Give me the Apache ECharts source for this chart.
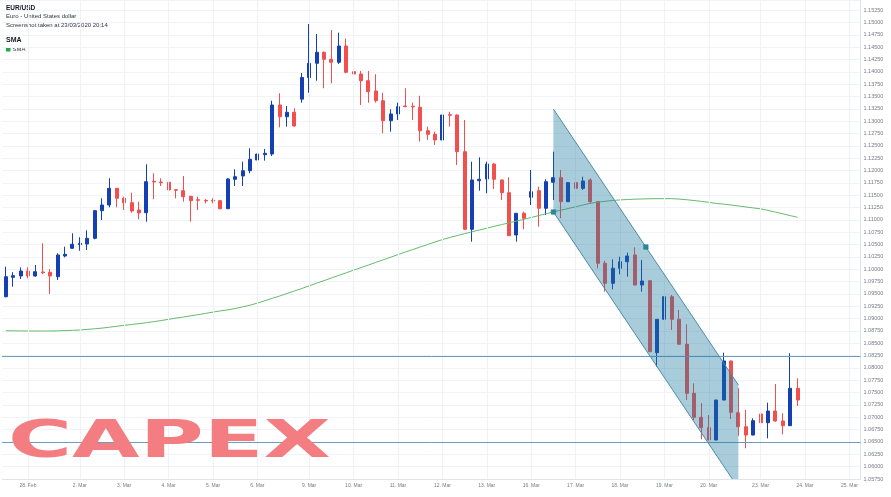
<!DOCTYPE html>
<html><head><meta charset="utf-8">
<script src="https://cdn.jsdelivr.net/npm/echarts@6/dist/echarts.min.js"></script>
<style>html,body{margin:0;padding:0;background:#fff}#c{width:891px;height:497px}</style>
</head><body><div id="c"></div>
<script>
// ---- data (EUR/USD 4h candles, 27 Feb – 23 Mar 2020) ----
const tickIndex = [3,10,16,22,28,34,41,47,53,59,65,71,77,83,89,95,102,108,114];
const tickLabels = ['28. Feb','2. Mar','3. Mar','4. Mar','5. Mar','6. Mar','9. Mar','10. Mar','11. Mar','12. Mar','13. Mar','16. Mar','17. Mar','18. Mar','19. Mar','20. Mar','23. Mar','24. Mar','25. Mar'];
const slotCount = 116;
const opens = [1.09443,1.09836,1.09863,1.09964,1.09863,1.09944,1.09938,1.09848,1.10268,1.10424,
1.10497,1.10511,1.10626,1.11186,1.11301,1.11639,1.11437,1.11348,1.11200,1.11145,
1.11781,1.11767,1.11761,1.11611,1.11591,1.11477,1.11408,1.11396,1.11396,1.11388,
1.11226,1.11822,1.11889,1.11996,1.12213,1.12320,1.12334,1.13327,1.13090,1.13179,
1.13445,1.13884,1.14172,1.14395,1.14253,1.14192,1.14522,1.14002,1.13955,1.13819,
1.13611,1.13414,1.13009,1.13145,1.13307,1.13301,1.13280,1.12806,1.12733,1.12618,
1.13131,1.13124,1.12381,1.10809,1.11793,1.11828,1.12132,1.11808,1.11550,1.10693,
1.11133,1.11457,1.11591,1.11234,1.11761,1.11854,1.11368,1.11753,1.11639,1.11808,
1.11368,1.10120,1.09715,1.10019,1.10152,1.10288,1.09680,1.09767,1.08309,1.08985,
1.09443,1.08985,1.08479,1.07486,1.07000,1.06789,1.06540,1.07350,1.08141,1.07093,
1.06809,1.06641,1.07067,1.06890,1.07127,1.06925,1.06830,1.07587];
const closes = [1.09848,1.09869,1.09964,1.09863,1.09950,1.09929,1.09863,1.10288,1.10302,1.10505,
1.10525,1.10626,1.11186,1.11301,1.11639,1.11437,1.11348,1.11179,1.11139,1.11773,
1.11767,1.11753,1.11605,1.11599,1.11469,1.11388,1.11396,1.11382,1.11382,1.11226,
1.11828,1.11874,1.11996,1.12227,1.12334,1.12348,1.13327,1.13090,1.13179,1.12902,
1.13884,1.14172,1.14395,1.14253,1.14192,1.14522,1.13990,1.13955,1.13819,1.13596,
1.13414,1.13009,1.13145,1.13293,1.13293,1.13287,1.12806,1.12733,1.12618,1.13124,
1.13118,1.12381,1.10809,1.11808,1.11822,1.12132,1.11822,1.11550,1.10679,1.11133,
1.11032,1.11571,1.11234,1.11773,1.11854,1.11368,1.11753,1.11639,1.11787,1.11368,
1.10120,1.09715,1.10019,1.10152,1.10268,1.09680,1.09761,1.08329,1.08985,1.09443,
1.08985,1.08479,1.07486,1.07000,1.06789,1.06540,1.07350,1.08141,1.07101,1.06809,
1.06641,1.06931,1.06890,1.07127,1.06925,1.06830,1.07587,1.07350];
const lows = [1.09431,1.09646,1.09802,1.09816,1.09848,1.09903,1.09498,1.09782,1.10241,1.10410,
1.10375,1.10389,1.10606,1.10997,1.11254,1.11254,1.11200,1.11145,1.11011,1.10963,
1.11417,1.11686,1.11591,1.11437,1.11368,1.10963,1.11200,1.11335,1.11335,1.11214,
1.11220,1.11686,1.11686,1.11943,1.12111,1.12199,1.12294,1.12875,1.12887,1.12887,
1.13374,1.13576,1.13819,1.13665,1.13767,1.14158,1.13969,1.13732,1.13327,1.13374,
1.13374,1.12754,1.12786,1.13023,1.13280,1.13023,1.12584,1.12618,1.12517,1.12604,
1.12887,1.12111,1.10795,1.10558,1.11591,1.11538,1.11625,1.11402,1.10673,1.10558,
1.10809,1.11301,1.10861,1.11098,1.11402,1.11032,1.11362,1.11605,1.11605,1.11335,
1.10019,1.09545,1.09593,1.09897,1.09848,1.09674,1.09545,1.08323,1.08025,1.08981,
1.08769,1.08475,1.07350,1.06945,1.06554,1.06534,1.06534,1.07344,1.06965,1.06627,
1.06372,1.06635,1.06372,1.06574,1.06911,1.06655,1.06824,1.07229];
const highs = [1.10051,1.09938,1.10039,1.10039,1.10085,1.10525,1.10004,1.10322,1.10456,1.10728,
1.10647,1.10788,1.11200,1.11437,1.11842,1.11645,1.11469,1.11550,1.11368,1.12126,
1.11943,1.11842,1.11773,1.11619,1.11889,1.11483,1.11469,1.11417,1.11437,1.11402,
1.11842,1.12024,1.12178,1.12450,1.12482,1.12436,1.13414,1.13564,1.13307,1.13260,
1.13975,1.14968,1.14765,1.14411,1.14846,1.14792,1.14670,1.14253,1.14016,1.14016,
1.13949,1.13576,1.13240,1.13374,1.13665,1.13374,1.13515,1.12887,1.12786,1.13327,
1.13191,1.13135,1.13023,1.12178,1.12267,1.12178,1.12146,1.11818,1.11862,1.11139,
1.11165,1.12010,1.11672,1.11822,1.12381,1.12010,1.11767,1.11842,1.11874,1.11842,
1.11376,1.10173,1.10201,1.10254,1.10335,1.10444,1.10187,1.09775,1.08991,1.09796,
1.09478,1.09174,1.08884,1.07689,1.07284,1.07046,1.07356,1.08309,1.08147,1.07587,
1.07148,1.06980,1.07093,1.07296,1.07675,1.07081,1.08297,1.07790];
const sma = [1.08754,1.08752,1.08750,1.08748,1.08748,1.08748,1.08748,1.08752,1.08756,1.08762,
1.08768,1.08781,1.08793,1.08807,1.08825,1.08844,1.08862,1.08880,1.08898,1.08916,
1.08937,1.08961,1.08985,1.09010,1.09032,1.09056,1.09081,1.09105,1.09131,1.09156,
1.09176,1.09204,1.09237,1.09271,1.09314,1.09360,1.09409,1.09457,1.09508,1.09559,
1.09609,1.09664,1.09717,1.09769,1.09822,1.09875,1.09927,1.09980,1.10033,1.10085,
1.10138,1.10191,1.10243,1.10296,1.10349,1.10399,1.10450,1.10501,1.10551,1.10600,
1.10643,1.10681,1.10720,1.10758,1.10795,1.10831,1.10868,1.10904,1.10938,1.10975,
1.11011,1.11048,1.11086,1.11123,1.11161,1.11196,1.11230,1.11265,1.11301,1.11335,
1.11358,1.11376,1.11392,1.11404,1.11412,1.11419,1.11423,1.11427,1.11429,1.11429,
1.11429,1.11421,1.11408,1.11392,1.11374,1.11354,1.11333,1.11319,1.11301,1.11281,
1.11261,1.11242,1.11224,1.11192,1.11157,1.11123,1.11086,1.11052];
const levels = [1.0823, 1.0650];
const channelX = [74, 99];
const channelUpper = [1.13246, 1.07654];
const channelLower = [1.11159, 1.05567];
const yMin = 1.0575, yMax = 1.15454, yStep = 0.0025;

// ---- build ----
const categories = Array.from({length: slotCount}, () => '');
tickIndex.forEach((k, j) => { categories[k] = tickLabels[j]; });
const candleData = opens.map((o, i) => [o, closes[i], lows[i], highs[i]]);
const UP = '#1440b4', DOWN = '#f24f4f';
const FONT = 'Liberation Sans';

const chart = echarts.init(document.getElementById('c'), null, {renderer: 'canvas'});
chart.setOption({
  animation: false,
  backgroundColor: '#ffffff',
  grid: {left: 2.1, right: 30.5, top: 0, bottom: 18, containLabel: false},
  xAxis: {
    type: 'category', data: categories, boundaryGap: true,
    axisLine: {show: true, lineStyle: {color: '#e0e3eb'}},
    axisTick: {show: false},
    splitLine: {show: false},
    axisLabel: {interval: (i, v) => v !== '', color: '#787b86', fontSize: 5, fontFamily: FONT, margin: 4.5, hideOverlap: false}
  },
  yAxis: {
    type: 'value', position: 'right', min: yMin, max: yMax, interval: yStep, scale: true,
    axisLine: {show: true, lineStyle: {color: '#e0e3eb'}},
    axisTick: {show: false},
    splitLine: {show: true, lineStyle: {color: '#f0f3fa', width: 1}},
    axisLabel: {showMaxLabel: false, color: '#787b86', fontSize: 5.5, fontFamily: FONT, margin: 3,
      formatter: v => v.toFixed(5)}
  },
  graphic: [
    {type: 'text', x: 6, y: 8, style: {text: 'EUR/USD', font: 'bold 6.5px ' + FONT, fill: '#131722', textVerticalAlign: 'middle'}},
    {type: 'text', x: 6, y: 16.7, style: {text: 'Euro - United States dollar', font: '6px ' + FONT, fill: '#333640', textVerticalAlign: 'middle'}},
    {type: 'text', x: 6, y: 25, style: {text: 'Screenshot taken at 23/03/2020 20:14', font: '6px ' + FONT, fill: '#333640', textVerticalAlign: 'middle'}},
    {type: 'text', x: 6, y: 40.5, style: {text: 'SMA', font: 'bold 7px ' + FONT, fill: '#131722', textVerticalAlign: 'middle'}},
    {type: 'rect', shape: {x: 6, y: 47, width: 4.5, height: 4.5}, style: {fill: '#22a64a'}},
    {type: 'text', x: 12.5, y: 49.3, style: {text: 'SMA', font: '6px ' + FONT, fill: '#333640', textVerticalAlign: 'middle'}},
    {type: 'text', x: 8, y: 443, scaleX: 1.68, scaleY: 1, z: 100,
      style: {text: 'CAPEX', font: 'bold 52px DejaVu Sans', fill: '#f37d80', textVerticalAlign: 'middle'}}
  ],
  series: [
    {
      type: 'line', data: [], z: 0, silent: true,
      markLine: {symbol: 'none', silent: true, label: {show: false}, animation: false,
        lineStyle: {color: '#eef1f7', width: 1, type: 'solid'},
        data: tickIndex.map(k => ({xAxis: k}))}
    },
    {
      type: 'candlestick', data: candleData, barWidth: 3.6, clip: false, z: 2,
      itemStyle: {color: UP, color0: DOWN, borderColor: UP, borderColor0: DOWN, borderWidth: 1},
      markLine: {symbol: 'none', silent: true, precision: 5, label: {show: false}, animation: false,
        lineStyle: {color: '#6a9cc0', width: 1, type: 'solid'},
        data: levels.map(v => ({yAxis: v}))}
    },
    {
      type: 'line', data: sma, z: 3, symbol: 'none', silent: true, smooth: false,
      lineStyle: {color: '#66bb6a', width: 1}
    },
    {
      type: 'custom', z: 5, clip: true, silent: true,
      data: [[channelX[0], channelUpper[0]]],
      renderItem: (params, api) => {
        const a = api.coord([channelX[0], channelUpper[0]]);
        const b = api.coord([channelX[1], channelUpper[1]]);
        const c = api.coord([channelX[1], channelLower[1]]);
        const d = api.coord([channelX[0], channelLower[0]]);
        const m = [(a[0] + b[0]) / 2, (a[1] + b[1]) / 2];
        const s = 4.5;
        return {type: 'group', children: [
          {type: 'polygon', shape: {points: [a, b, c, d]}, style: {fill: 'rgba(30,120,158,0.38)'}},
          {type: 'line', shape: {x1: a[0], y1: a[1], x2: b[0], y2: b[1]}, style: {stroke: '#4d8ca6', lineWidth: 1}},
          {type: 'line', shape: {x1: d[0], y1: d[1], x2: c[0], y2: c[1]}, style: {stroke: '#4d8ca6', lineWidth: 1}},
          {type: 'rect', shape: {x: d[0] - s / 2, y: d[1] - s / 2, width: s, height: s}, style: {fill: '#2a8a9c', stroke: '#1f6f80', lineWidth: 0.5}},
          {type: 'rect', shape: {x: m[0] - s / 2, y: m[1] - s / 2, width: s, height: s}, style: {fill: '#2a8a9c', stroke: '#1f6f80', lineWidth: 0.5}}
        ]};
      }
    }
  ]
});
</script>
</body></html>
